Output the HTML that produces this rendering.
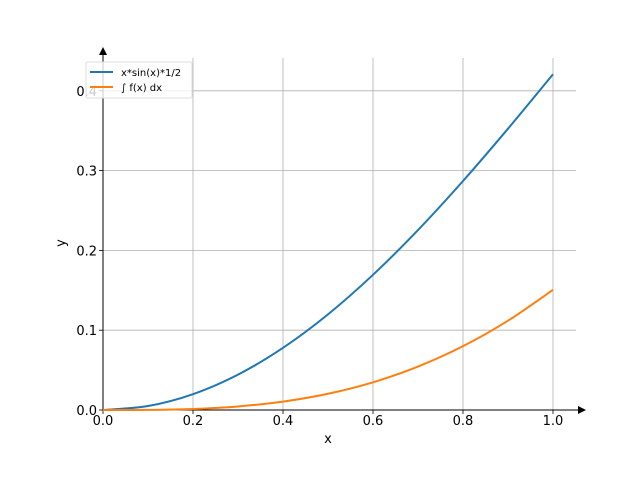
<!DOCTYPE html>
<html><head><meta charset="utf-8"><style>
body{margin:0;background:#fff;}
svg{display:block;font-family:"DejaVu Sans","Liberation Sans",sans-serif;}
</style></head><body>
<svg id="chart" width="640" height="480" viewBox="0 0 640 480">
<g id="grid"></g>
<g id="axes">
<line x1="103" y1="410" x2="580" y2="410" stroke="#000" stroke-width="1"/>
<polygon points="586,410 578,406 578,414" fill="#000"/>
<line x1="103" y1="410" x2="103" y2="54" stroke="#000" stroke-width="1"/>
<polygon points="103,47 99,55 107,55" fill="#000"/>
</g>
<g id="ticks"></g>
<g id="series"></g>
<text x="328" y="443" font-size="13" text-anchor="middle">x</text>
<text x="65" y="243" font-size="13" text-anchor="middle" transform="rotate(-90 65 243)">y</text>
<g>
<rect x="86" y="62" width="106" height="36" fill="#fff" fill-opacity="0.8" stroke="#ddd" rx="2"/>
<line x1="90" y1="72" x2="113" y2="72" stroke="#1f77b4" stroke-width="2"/>
<text x="121" y="76" font-size="10">x*sin(x)*1/2</text>
<line x1="90" y1="87" x2="113" y2="87" stroke="#ff7f0e" stroke-width="2"/>
<text x="121" y="91" font-size="10">∫ f(x) dx</text>
</g>
</svg>
<script>
const xs = [0,0.1,0.2,0.3,0.4,0.5,0.6,0.7,0.8,0.9,1.0];
const fVals = [0,0.004992,0.019867,0.044328,0.077884,0.119856,0.169392,0.225477,0.286944,0.352499,0.420735];
const intVals = [0,0.000166,0.001328,0.004460,0.010497,0.020317,0.034720,0.054414,0.079995,0.111939,0.150584];
const xTicks = [0,0.2,0.4,0.6,0.8,1.0];
const xTickLabels = ["0.0","0.2","0.4","0.6","0.8","1.0"];
const yTicks = [0,0.1,0.2,0.3,0.4];
const yTickLabels = ["0.0","0.1","0.2","0.3","0.4"];

const X = v => 103 + v*450;
const Y = v => 410 - v*798;
const NS = "http://www.w3.org/2000/svg";
const grid = document.getElementById('grid');
const ticks = document.getElementById('ticks');
const series = document.getElementById('series');
function mk(tag, attrs, parent){const e=document.createElementNS(NS,tag);for(const k in attrs)e.setAttribute(k,attrs[k]);parent.appendChild(e);return e;}

xTicks.forEach((t,i)=>{
  const gl = mk('line',{x1:X(t),x2:X(t),y1:58,y2:410,stroke:'#b0b0b0','stroke-width':0.8},grid);
  
  
  const tk = mk('line',{x1:X(t),x2:X(t),y1:410,y2:414,stroke:'#000','stroke-width':0.8},ticks);
  
  
  const tl = mk('text',{x:X(t),y:425,'font-size':13,'text-anchor':'middle'},ticks);
  tl.textContent = xTickLabels[i];
  
  
});
yTicks.forEach((t,i)=>{
  const gl = mk('line',{x1:103,x2:576,y1:Y(t),y2:Y(t),stroke:'#b0b0b0','stroke-width':0.8},grid);
  
  
  const tk = mk('line',{x1:99,x2:103,y1:Y(t),y2:Y(t),stroke:'#000','stroke-width':0.8},ticks);
  
  
  const tl = mk('text',{x:97,y:Y(t)+5,'font-size':13,'text-anchor':'end'},ticks);
  tl.textContent = yTickLabels[i];
  
  
});

function smoothPath(vals){
  const p = xs.map((x,i)=>[X(x),Y(vals[i])]);
  let d = `M${p[0][0]},${p[0][1]}`;
  for(let i=0;i<p.length-1;i++){
    const p0=p[Math.max(i-1,0)],p1=p[i],p2=p[i+1],p3=p[Math.min(i+2,p.length-1)];
    const c1=[p1[0]+(p2[0]-p0[0])/6,p1[1]+(p2[1]-p0[1])/6];
    const c2=[p2[0]-(p3[0]-p1[0])/6,p2[1]-(p3[1]-p1[1])/6];
    d+=` C${c1[0]},${c1[1]} ${c2[0]},${c2[1]} ${p2[0]},${p2[1]}`;
  }
  return d;
}
const l1 = mk('path',{d:smoothPath(fVals),fill:'none',stroke:'#1f77b4','stroke-width':2},series);


const l2 = mk('path',{d:smoothPath(intVals),fill:'none',stroke:'#ff7f0e','stroke-width':2},series);


</script>
</body></html>
